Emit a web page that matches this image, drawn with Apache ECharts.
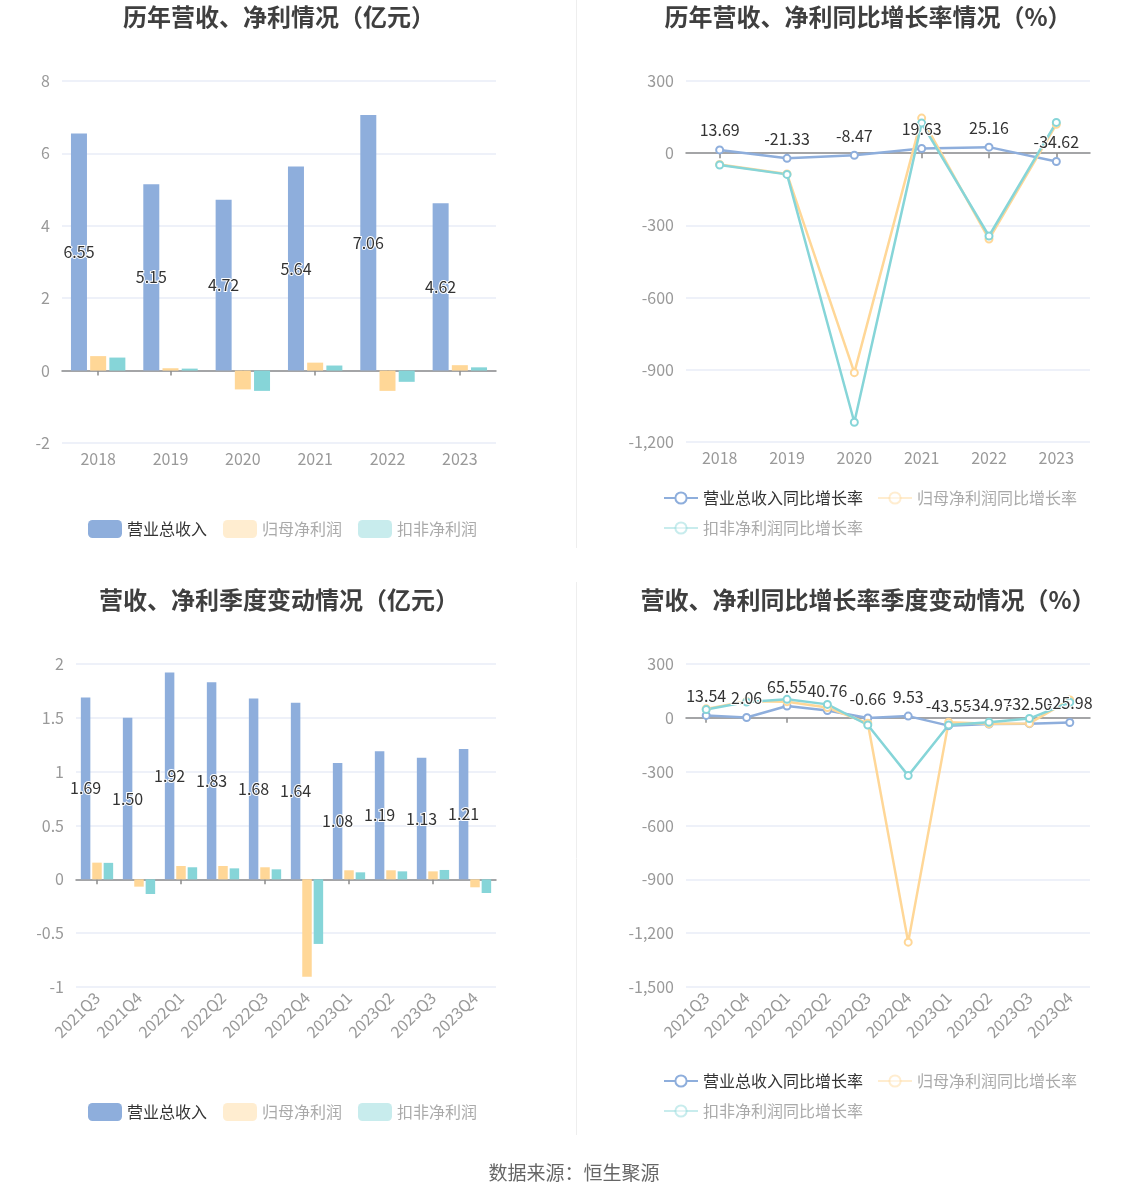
<!DOCTYPE html>
<html><head><meta charset="utf-8">
<script src="https://cdn.jsdelivr.net/npm/echarts@6/dist/echarts.min.js"></script>
<style>html,body{margin:0;padding:0;background:#fff}#c{width:1148px;height:1202px}</style>
</head><body><div id="c"></div>
<script>
// ---- data ----
const years = ['2018','2019','2020','2021','2022','2023'];
const yearRevenue = [6.55, 5.15, 4.72, 5.64, 7.06, 4.62];
const yearNetProfit = [0.40, 0.065, -0.52, 0.22, -0.56, 0.15];
const yearDeductedProfit = [0.36, 0.055, -0.56, 0.14, -0.31, 0.09];
const yearRevenueGrowth = [13.69, -21.33, -8.47, 19.63, 25.16, -34.62];
const yearNetProfitGrowth = [-47, -86, -912, 146, -357, 120];
const yearDeductedGrowth = [-49, -88, -1118, 125, -344, 128];
const quarters = ['2021Q3','2021Q4','2022Q1','2022Q2','2022Q3','2022Q4','2023Q1','2023Q2','2023Q3','2023Q4'];
const qRevenue = [1.69, 1.50, 1.92, 1.83, 1.68, 1.64, 1.08, 1.19, 1.13, 1.21];
const qNetProfit = [0.155, -0.068, 0.124, 0.124, 0.112, -0.905, 0.084, 0.084, 0.074, -0.074];
const qDeductedProfit = [0.153, -0.136, 0.112, 0.102, 0.093, -0.60, 0.065, 0.074, 0.087, -0.127];
const qRevenueGrowth = [13.54, 2.06, 65.55, 40.76, -0.66, 9.53, -43.55, -34.97, -32.50, -25.98];
const qNetProfitGrowth = [50, 92, 90, 57, -30, -1250, -24, -33, -31, 100];
const qDeductedGrowth = [46, 88, 103, 75, -40, -322, -40, -24, -4, 87];

const barNames = ['营业总收入','归母净利润','扣非净利润'];
const lineNames = ['营业总收入同比增长率','归母净利润同比增长率','扣非净利润同比增长率'];
const C = ['#8eaedc','#ffd797','#86d5d8'];
const FONT = '"Noto Sans CJK SC","Noto Sans",sans-serif';

const chart = echarts.init(document.getElementById('c'));

function fmt(v){ return echarts.format.addCommas(v); }

const grids = [
  {left:62, top:81, width:434, height:362},
  {left:686, top:81, width:404, height:361},
  {left:76, top:664, width:420, height:323},
  {left:686, top:664, width:404, height:323}
];
const yRanges = [[-2,8,2],[-1200,300,300],[-1,2,0.5],[-1500,300,300]];
const cats = [years, years, quarters, quarters];

const xAxis = [], yAxis = [];
grids.forEach((g,i)=>{
  xAxis.push({type:'category', gridIndex:i, data:cats[i], boundaryGap:true,
    axisLine:{onZero:true, lineStyle:{color:'#8c8c8c', width:1.5}},
    axisTick:{show:true, alignWithLabel:true, length:5, lineStyle:{color:'#8c8c8c', width:1.5}},
    axisLabel:{show:false}, splitLine:{show:false}});
  xAxis.push({type:'category', gridIndex:i, data:cats[i], position:'bottom',
    axisLine:{show:false, onZero:false}, axisTick:{show:false},
    axisLabel:{show:true, interval:0, color:'#999', fontSize:16, fontFamily:FONT,
      margin: 8, rotate: i>=2 ? 45 : 0}});
  yAxis.push({type:'value', gridIndex:i, min:yRanges[i][0], max:yRanges[i][1], interval:yRanges[i][2],
    axisLine:{show:false}, axisTick:{show:false},
    axisLabel:{color:'#999', fontSize:16, fontFamily:FONT, margin:12, formatter:fmt},
    splitLine:{lineStyle:{color:'#e8edf7', width:1.5}}});
});

function barSeries(gi, name, data, ci, label, bw){
  return {type:'bar', name:name, xAxisIndex:gi*2, yAxisIndex:gi, data:data,
    barWidth:bw, barGap:'20%', itemStyle:{color:C[ci]},
    label: label ? {show:true, position:'inside', color:'#333', fontSize:16, fontFamily:FONT,
      textBorderColor:'#fff', textBorderWidth:2, formatter:p=>p.value.toFixed(2)} : {show:false}};
}
function lineSeries(gi, name, data, ci, label){
  return {type:'line', name:name, xAxisIndex:gi*2, yAxisIndex:gi, data:data,
    symbol:'emptyCircle', symbolSize:7, showSymbol:true,
    lineStyle:{color:C[ci], width:2.5}, itemStyle:{color:C[ci], borderWidth:2},
    label: label ? {show:true, position:'top', color:'#333', fontSize:16, fontFamily:FONT,
      textBorderColor:'#fff', textBorderWidth:2, distance:7, formatter:p=>p.value.toFixed(2)} : {show:false}};
}

const series = [
  barSeries(0, barNames[0], yearRevenue, 0, true, 16),
  barSeries(0, barNames[1], yearNetProfit, 1, false, 16),
  barSeries(0, barNames[2], yearDeductedProfit, 2, false, 16),
  lineSeries(1, lineNames[0], yearRevenueGrowth, 0, true),
  lineSeries(1, lineNames[1], yearNetProfitGrowth, 1, false),
  lineSeries(1, lineNames[2], yearDeductedGrowth, 2, false),
  barSeries(2, barNames[0], qRevenue, 0, true, 9.5),
  barSeries(2, barNames[1], qNetProfit, 1, false, 9.5),
  barSeries(2, barNames[2], qDeductedProfit, 2, false, 9.5),
  lineSeries(3, lineNames[0], qRevenueGrowth, 0, true),
  lineSeries(3, lineNames[1], qNetProfitGrowth, 1, false),
  lineSeries(3, lineNames[2], qDeductedGrowth, 2, false)
];
series[3].z = 3; series[9].z = 3;

function legendData(names){
  return names.map((n,i)=> i===0 ? {name:n, textStyle:{color:'#333'}} :
    {name:n, textStyle:{color:'#aaa'}, itemStyle:{opacity:0.45}, lineStyle:{opacity:0.45}});
}
const barLegend = (top)=>({data:legendData(barNames), left:83, top:top, itemWidth:34, itemHeight:18,
  itemGap:16, textStyle:{fontSize:16, fontFamily:FONT}, selectedMode:false});
const lineLegend = (top)=>({data:legendData(lineNames), left:658, top:top, width:440, itemWidth:34, itemHeight:14,
  itemGap:14, textStyle:{fontSize:16, fontFamily:FONT}, selectedMode:false});

const titleStyle = {fontSize:24, fontWeight:'bold', color:'#3f3f3f', fontFamily:FONT};
chart.setOption({
  animation:false,
  textStyle:{fontFamily:FONT},
  title:[
    {text:'历年营收、净利情况（亿元）', left:274, top:0, textAlign:'center', textStyle:titleStyle},
    {text:'历年营收、净利同比增长率情况（%）', left:863, top:0, textAlign:'center', textStyle:titleStyle},
    {text:'营收、净利季度变动情况（亿元）', left:274, top:583, textAlign:'center', textStyle:titleStyle},
    {text:'营收、净利同比增长率季度变动情况（%）', left:863, top:583, textAlign:'center', textStyle:titleStyle}
  ],
  legend:[barLegend(515), lineLegend(485), barLegend(1098), lineLegend(1068)],
  grid:grids,
  xAxis:xAxis,
  yAxis:yAxis,
  series:series,
  graphic:[
    {type:'line', shape:{x1:576.5,y1:0,x2:576.5,y2:548}, style:{stroke:'#eee', lineWidth:1}},
    {type:'line', shape:{x1:576.5,y1:582,x2:576.5,y2:1135}, style:{stroke:'#eee', lineWidth:1}},
    {type:'text', left:'center', top:1163, style:{text:'数据来源：恒生聚源', fill:'#666', font:'19px '+FONT}}
  ]
});
</script></body></html>
